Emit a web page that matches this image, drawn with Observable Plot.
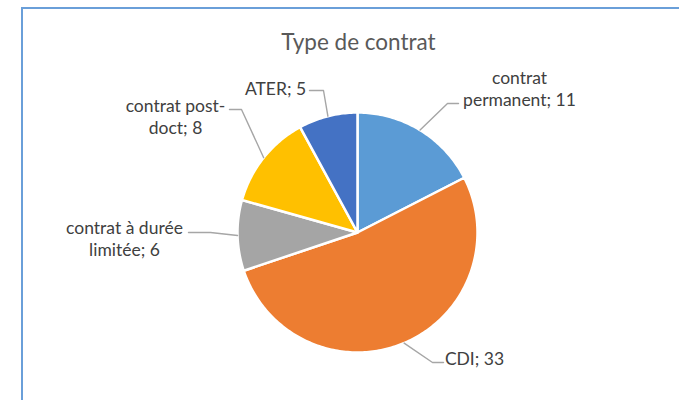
<!DOCTYPE html>
<html>
<head>
<meta charset="utf-8">
<script src="https://cdn.jsdelivr.net/npm/d3@7"></script>
<script src="https://cdn.jsdelivr.net/npm/@observablehq/plot@0.6"></script>
<style>
  html, body { margin: 0; padding: 0; background: #fff; overflow: hidden; }
  #wrap { position: relative; width: 679px; height: 400px; }
  #border { position: absolute; left: 21px; top: 7px; width: 700px; height: 420px;
            border-left: 2px solid #6A9FD9; border-top: 2px solid #6A9FD9; box-sizing: border-box; }
  #chart { position: absolute; left: 0; top: 0; }
</style>
</head>
<body>
<div id="wrap"><div id="border"></div><div id="chart"></div></div>
<script>
// ---- data ----
const title = "Type de contrat";
const categories = ["contrat permanent", "CDI", "contrat à durée limitée", "contrat post-doct", "ATER"];
const values = [11, 33, 6, 8, 5];
const labels = ["contrat\npermanent; 11", "CDI; 33", "contrat à durée\nlimitée; 6", "contrat post-\ndoct; 8", "ATER; 5"];

// ---- style / layout ----
const colors = ["#5B9BD5", "#ED7D31", "#A5A5A5", "#FFC000", "#4472C4"];
const W = 679, H = 400;
const cx = 357, cy = 232, r = 120;
const labelLayout = [
  {x: 519, y: 87,  elbow: [447, 103], end: [458, 103]},
  {x: 474, y: 357, elbow: [432, 362], end: [443, 362]},
  {x: 124, y: 237, elbow: [210, 232], end: [188, 232]},
  {x: 175, y: 115, elbow: [241, 109], end: [229, 109]},
  {x: 275, y: 87,  elbow: [323, 90],  end: [309, 90]}
];

const arcs = d3.pie().sort(null).value(d => d)(values);
const pt = (a, rad) => ({x: cx + rad * Math.sin(a), y: cy - rad * Math.cos(a)});

const slicePts = arcs.flatMap((a, i) => {
  const n = Math.max(2, Math.ceil((a.endAngle - a.startAngle) / (Math.PI / 180)));
  const pts = [{x: cx, y: cy, cat: categories[i]}];
  for (let k = 0; k <= n; k++) {
    const ang = a.startAngle + (a.endAngle - a.startAngle) * k / n;
    pts.push({...pt(ang, r), cat: categories[i]});
  }
  return pts;
});

const leaderPts = arcs.flatMap((a, i) => {
  const mid = (a.startAngle + a.endAngle) / 2;
  const L = labelLayout[i];
  return [
    {...pt(mid, r), cat: categories[i]},
    {x: L.elbow[0], y: L.elbow[1], cat: categories[i]},
    {x: L.end[0], y: L.end[1], cat: categories[i]}
  ];
});

const labelData = categories.map((c, i) => ({cat: c, text: labels[i], x: labelLayout[i].x, y: labelLayout[i].y}));

const chart = Plot.plot({
  width: W, height: H,
  margin: 0,
  style: {fontFamily: "Lato, 'Open Sans', sans-serif", background: "transparent", overflow: "visible"},
  x: {domain: [0, W], range: [0, W], axis: null},
  y: {domain: [0, H], range: [0, H], axis: null},
  color: {domain: categories, range: colors},
  marks: [
    Plot.line(slicePts, {x: "x", y: "y", z: "cat", fill: "cat", stroke: "white", strokeWidth: 2.5, strokeLinejoin: "round", curve: "linear-closed"}),
    Plot.line(leaderPts, {x: "x", y: "y", z: "cat", stroke: "#A6A6A6", strokeWidth: 1.4}),
    Plot.text(labelData, {x: "x", y: "y", text: "text", fontSize: 17.5, fill: "#404040", textAnchor: "middle", lineAnchor: "middle", lineHeight: 1.27}),
    Plot.text([title], {x: () => cx + 1, y: () => 42, text: d => d, fontSize: 22.5, fill: "#595959", textAnchor: "middle", lineAnchor: "middle"})
  ]
});
document.getElementById("chart").appendChild(chart);
</script>
</body>
</html>
